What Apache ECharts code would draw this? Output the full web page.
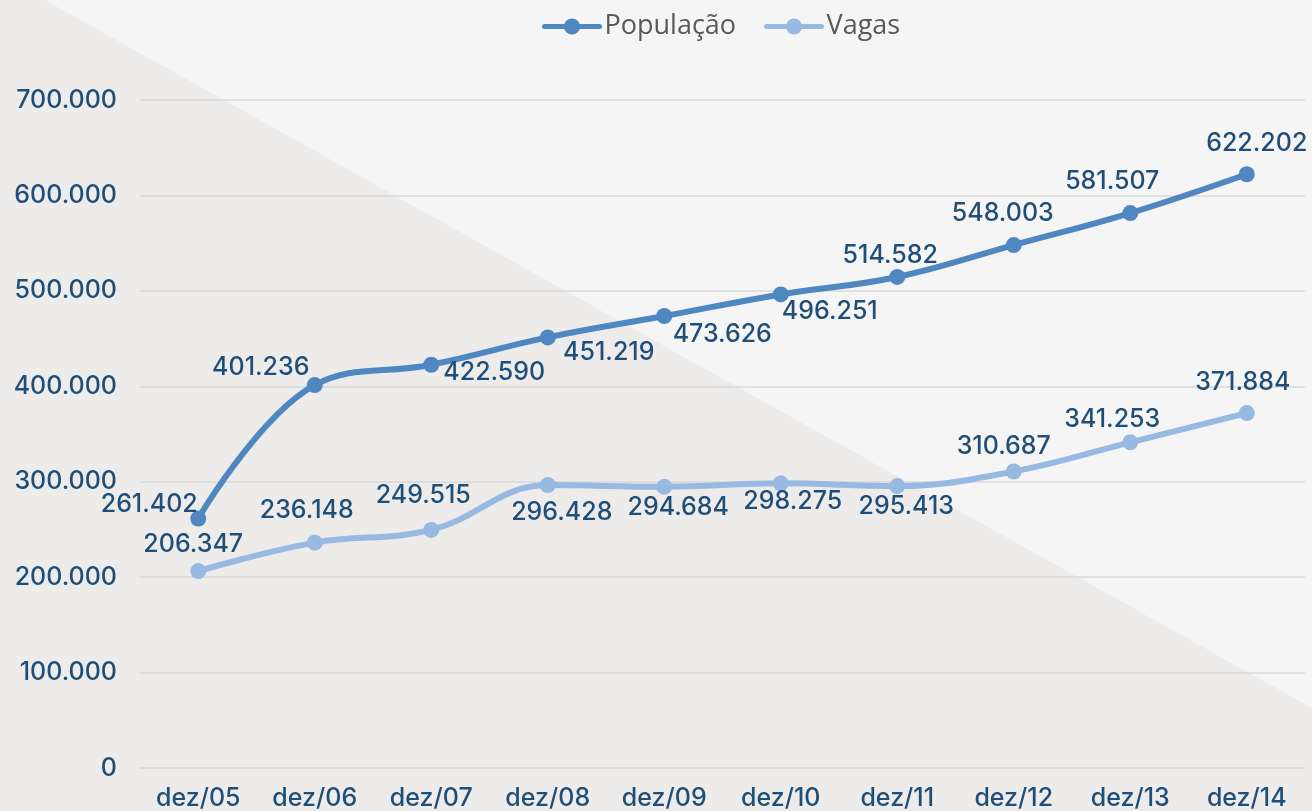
<!DOCTYPE html>
<html>
<head>
<meta charset="utf-8">
<script src="https://cdn.jsdelivr.net/npm/echarts@6/dist/echarts.min.js"></script>
<style>
html,body{margin:0;padding:0;background:#f5f5f5;}
#chart{width:1312px;height:811px;}
</style>
</head>
<body>
<div id="chart"></div>
<script>
// ---- data ----
const categories = ['dez/05','dez/06','dez/07','dez/08','dez/09','dez/10','dez/11','dez/12','dez/13','dez/14'];
const populacao = [261402, 401236, 422590, 451219, 473626, 496251, 514582, 548003, 581507, 622202];
const vagas = [206347, 236148, 249515, 296428, 294684, 298275, 295413, 310687, 341253, 371884];
const yTicks = [0, 100000, 200000, 300000, 400000, 500000, 600000, 700000];

// ---- label placement (styling, not data) ----
const popLabelOffsets = [[-49,-14],[-54,-18],[63,8],[61,15],[58,18],[49,17],[-7,-21],[-11,-32],[-18,-32],[10,-31]];
const vagLabelOffsets = [[-5,-27],[-8,-32],[-8,-34],[14,27],[14,21],[12,18],[9,20],[-10,-25],[-18,-23],[-4,-31]];

function fmt(v){ return String(v).replace(/\B(?=(\d{3})+(?!\d))/g,'.'); }

const labelFont = 'Inter';
const labelWeight = 500;
const labelSize = 25;
const labelColor = '#1f4e79';

function buildData(vals, offs){
  return vals.map((v,i)=>({value:v,label:{offset:offs[i]}}));
}

const chart = echarts.init(document.getElementById('chart'), null, {renderer:'canvas'});
chart.setOption({
  backgroundColor:'#f5f5f5',
  animation:false,
  graphic:[{
    type:'polygon', z:-10, silent:true,
    shape:{points:[[0,0],[45,0],[1312,708],[1312,811],[0,811]]},
    style:{fill:'#edecea'}
  }],
  legend:{
    left:537, top:8,
    itemWidth:55, itemHeight:20, itemGap:28,
    lineStyle:{width:5, cap:'round'},
    textStyle:{fontFamily:'Open Sans', fontSize:27, color:'#595959', padding:[0,0,0,0]},
    data:['População','Vagas']
  },
  grid:{left:140, right:7, top:100, bottom:43, containLabel:false},
  xAxis:{
    type:'category', data:categories, boundaryGap:true,
    axisLine:{show:false}, axisTick:{show:false},
    axisLabel:{fontFamily:labelFont, fontWeight:labelWeight, fontSize:labelSize, color:labelColor, margin:18}
  },
  yAxis:{
    type:'value', min:yTicks[0], max:yTicks[yTicks.length-1], interval:100000,
    axisLine:{show:false}, axisTick:{show:false},
    splitLine:{lineStyle:{color:'#d9d9d9', width:1.5}},
    axisLabel:{fontFamily:labelFont, fontWeight:labelWeight, fontSize:labelSize, color:labelColor, margin:23, formatter:v=>fmt(v)}
  },
  series:[
    {
      name:'População', type:'line', smooth:0.4,
      data:buildData(populacao, popLabelOffsets),
      symbol:'circle', symbolSize:16,
      lineStyle:{width:6, color:'#4f87c1', cap:'round'},
      itemStyle:{color:'#4f87c1'},
      label:{show:true, position:'inside', fontFamily:labelFont, fontWeight:labelWeight, fontSize:labelSize, color:labelColor, formatter:p=>fmt(p.value)},
      z:3
    },
    {
      name:'Vagas', type:'line', smooth:0.4,
      data:buildData(vagas, vagLabelOffsets),
      symbol:'circle', symbolSize:16,
      lineStyle:{width:6, color:'#97b9e2', cap:'round'},
      itemStyle:{color:'#97b9e2'},
      label:{show:true, position:'inside', fontFamily:labelFont, fontWeight:labelWeight, fontSize:labelSize, color:labelColor, formatter:p=>fmt(p.value)},
      z:2
    }
  ]
});
</script>
</body>
</html>
